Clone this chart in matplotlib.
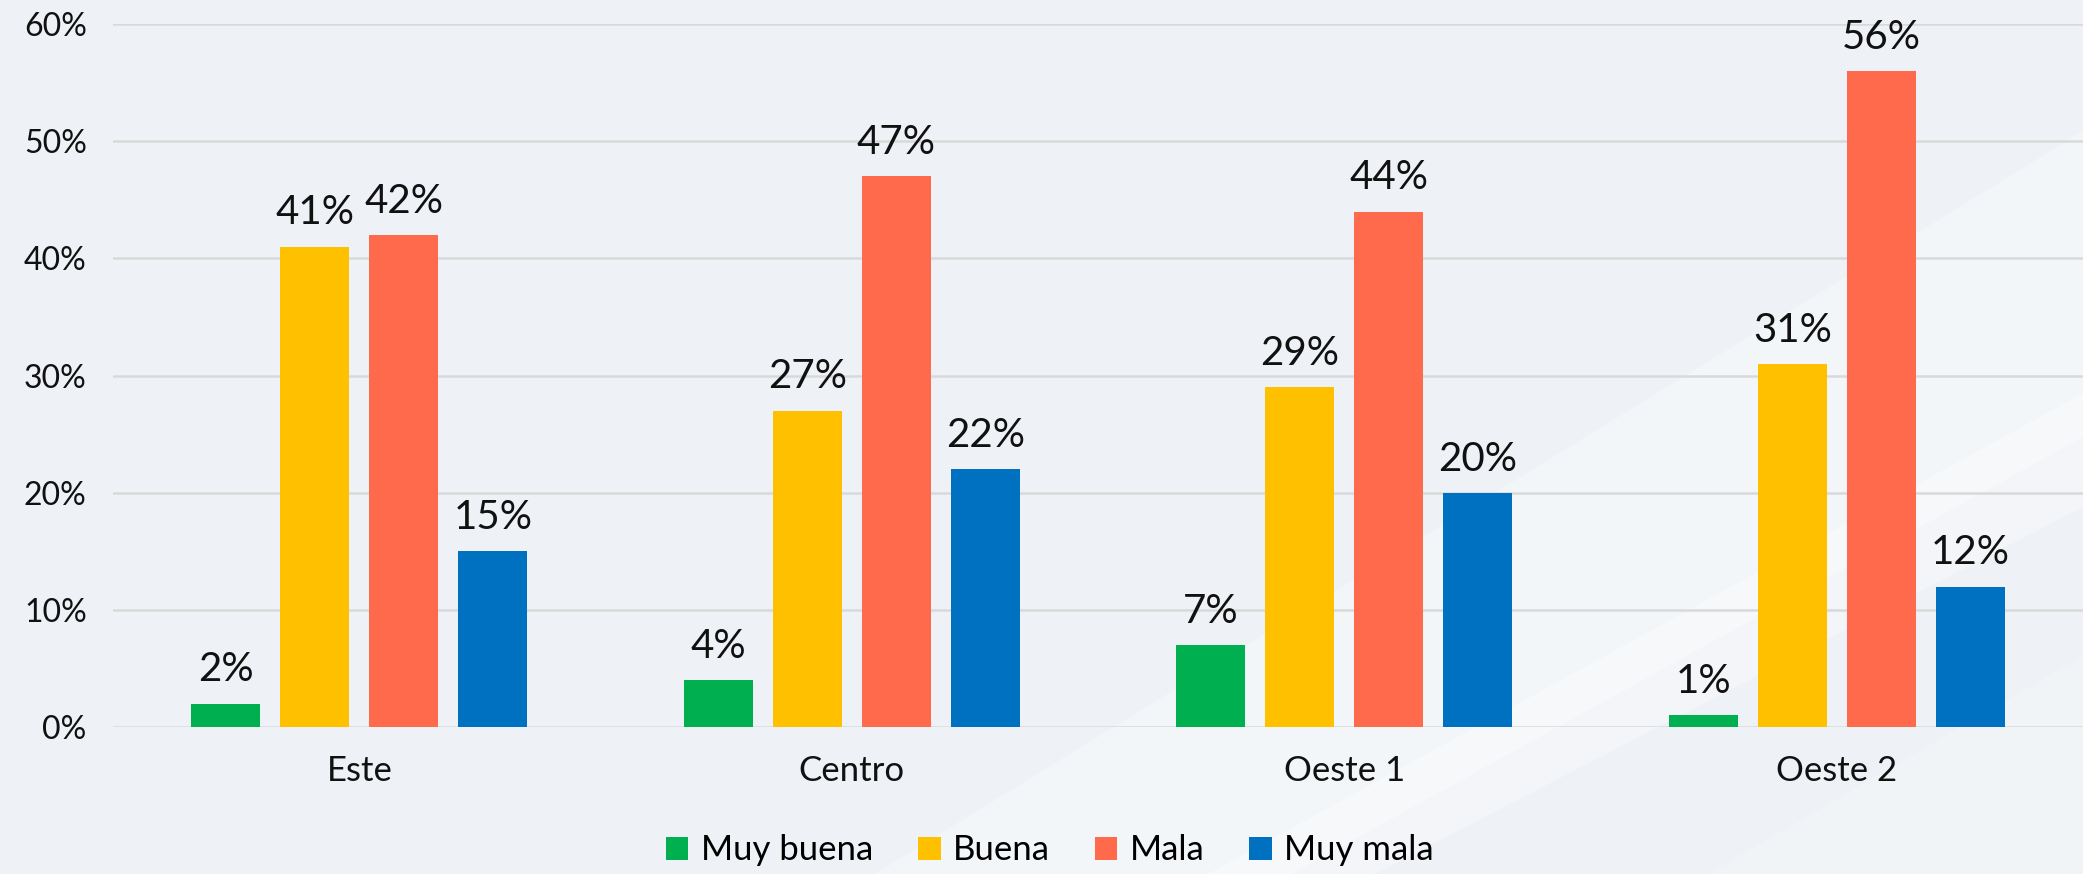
import numpy as np
import matplotlib.pyplot as plt
from matplotlib.patches import Polygon

categories = ['Este', 'Centro', 'Oeste 1', 'Oeste 2']
series_names = ['Muy buena', 'Buena', 'Mala', 'Muy mala']
muy_buena = [0.02, 0.04, 0.07, 0.01]
buena = [0.41, 0.27, 0.29, 0.31]
mala = [0.42, 0.47, 0.44, 0.56]
muy_mala = [0.15, 0.22, 0.20, 0.12]
colors = ['#00B050', '#FFC000', '#FF6A4D', '#0070C0']

plt.rcParams['font.family'] = ['Lato', 'DejaVu Sans']

fig = plt.figure(figsize=(20.83, 8.74), dpi=100)
fig.patch.set_facecolor('#EEF2F6')

# faint diagonal streaks in the background
for pts, a in [([(0.42, 0), (0.62, 0), (1.0, 0.5), (1.0, 0.85)], 0.35),
               ([(0.58, 0), (0.66, 0), (1.0, 0.42), (1.0, 0.55)], 0.3),
               ([(0.82, 0), (1.0, 0), (1.0, 0.25)], 0.2)]:
    fig.patches.append(Polygon(pts, closed=True, transform=fig.transFigure,
                               facecolor='white', alpha=a, edgecolor='none', zorder=-5))

ax = fig.add_axes([0.0543, 0.168, 0.9457, 0.8045])
ax.set_facecolor('none')
ax.set_zorder(2)

x = np.arange(len(categories))
step = 0.1806
width = 0.14
all_series = [muy_buena, buena, mala, muy_mala]
for i, (name, vals) in enumerate(zip(series_names, all_series)):
    pos = x + (i - 1.5) * step
    bars = ax.bar(pos, vals, width, color=colors[i], label=name, zorder=3)
    for b, v in zip(bars, vals):
        ax.annotate(f'{round(v * 100)}%', (b.get_x() + b.get_width() / 2, v),
                    xytext=(0, 11), textcoords='offset points',
                    ha='center', va='bottom', fontsize=29, color='#111111')

ax.set_xlim(-0.5, 3.5)
ax.set_ylim(0, 0.6)
ax.set_yticks(np.arange(0, 0.61, 0.1))
ax.set_yticklabels([f'{int(t * 100)}%' for t in np.arange(0, 0.61, 0.1)])
ax.set_xticks(x)
ax.set_xticklabels(categories)
ax.tick_params(axis='y', length=0, pad=19, labelsize=23, labelcolor='#111111')
ax.tick_params(axis='x', length=0, pad=20, labelsize=25, labelcolor='#111111')
ax.grid(axis='y', color='#D9D9D9', linewidth=1.8, zorder=0)
ax.set_axisbelow(True)
for s in ax.spines.values():
    s.set_visible(False)

leg = fig.legend(loc='center', bbox_to_anchor=(0.504, 0.027), ncol=4, frameon=False,
                 fontsize=25, handlelength=0.65, handleheight=0.65, handletextpad=0.35,
                 columnspacing=1.3)

fig.savefig('out.png', dpi=100, facecolor=fig.get_facecolor())
